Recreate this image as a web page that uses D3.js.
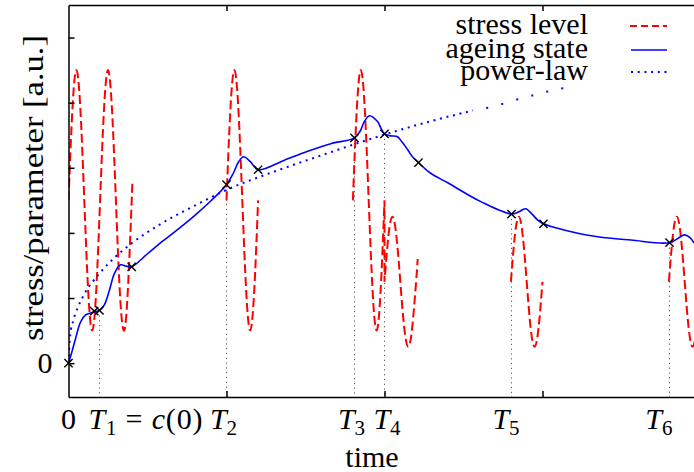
<!DOCTYPE html>
<html>
<head>
<meta charset="utf-8">
<script src="https://cdn.jsdelivr.net/npm/d3@7"></script>
<style>
  html, body { margin: 0; padding: 0; background: #fff; }
  svg { display: block; }
  text { font-family: "Liberation Serif", "Times New Roman", serif; fill: #000; white-space: pre; }
</style>
</head>
<body>
<svg id="chart" width="694" height="472"></svg>
<script>
// ---- data (time in arbitrary units, values in a.u.) ----
// stress bursts, one array per loading interval: [time, stress]
const stressBurst1 = [[0,2.5],[0.025,3.91],[0.05,4.5],[0.075,3.91],[0.1,2.5],[0.125,1.09],[0.15,0.5],[0.175,1.09],
  [0.2,2.5],[0.225,3.91],[0.25,4.5],[0.275,3.91],[0.3,2.5],[0.325,1.09],[0.35,0.5],[0.375,1.09],[0.4,2.5],[0.405,2.81]];
const stressBurst2 = [[1.0,2.5],[1.025,3.91],[1.05,4.5],[1.075,3.91],[1.1,2.5],[1.125,1.09],[1.15,0.5],[1.175,1.09],[1.2,2.5]];
const stressBurst3 = [[1.8,2.5],[1.825,3.91],[1.85,4.5],[1.875,3.91],[1.9,2.5],[1.925,1.09],[1.95,0.5],[1.975,1.09],[2.0,2.5]];
const stressBurst4 = [[2.0,1.25],[2.025,1.96],[2.05,2.25],[2.075,1.96],[2.1,1.25],[2.125,0.54],[2.15,0.25],[2.175,0.54],[2.2,1.25],[2.21,1.6]];
const stressBurst5 = [[2.8,1.25],[2.825,1.96],[2.85,2.25],[2.875,1.96],[2.9,1.25],[2.925,0.54],[2.95,0.25],[2.975,0.54],[3.0,1.25]];
const stressBurst6 = [[3.8,1.25],[3.825,1.96],[3.85,2.25],[3.875,1.96],[3.9,1.25],[3.925,0.54],[3.95,0.25],[3.975,0.54],[4.0,1.25]];

// ageing state: [time, value]
const ageingState = [[0,0],[0.02,0.16],[0.044,0.37],[0.076,0.63],[0.108,0.74],[0.139,0.77],[0.163,0.79],[0.196,0.81],
  [0.228,0.9],[0.259,1.12],[0.291,1.38],[0.329,1.51],[0.365,1.49],[0.4,1.48],[0.5,1.68],[0.6,1.88],[0.7,2.07],[0.8,2.27],[0.9,2.49],[1.0,2.74],
  [1.044,2.92],[1.076,3.09],[1.108,3.17],[1.152,3.09],[1.2,2.97],[1.36,3.11],[1.51,3.25],[1.66,3.37],[1.81,3.46],
  [1.85,3.58],[1.87,3.7],[1.905,3.8],[1.956,3.71],[1.975,3.62],[2.0,3.52],[2.038,3.49],[2.08,3.48],[2.11,3.4],
  [2.146,3.28],[2.177,3.17],[2.215,3.08],[2.29,2.92],[2.4,2.77],[2.61,2.48],[2.804,2.29],[2.848,2.32],[2.892,2.37],
  [2.937,2.28],[2.968,2.2],[3.006,2.14],[3.13,2.05],[3.35,1.94],[3.56,1.89],[3.804,1.85],[3.873,1.94],[3.899,1.97],
  [3.937,1.92],[3.956,1.86],[4.0,1.78]];

// marked states on the ageing curve
const markedStates = [[0,0],[0.163,0.8],[0.196,0.81],[0.4,1.48],[1.0,2.74],[1.2,2.97],[1.81,3.46],[2.0,3.52],
  [2.215,3.08],[2.804,2.29],[3.006,2.14],[3.804,1.85]];

// switching times T1..T6 with the state reached there
const switchPoints = [[0.196,0.81],[1.0,2.74],[1.81,3.46],[2.0,3.52],[2.804,2.29],[3.804,1.85]];

// power-law reference: densely drawn part, then sparse samples
const powerLaw = [[0,0],[0.01,0.42],[0.03,0.65],[0.06,0.86],[0.1,1.06],[0.15,1.24],[0.2,1.39],[0.3,1.64],[0.4,1.84],
  [0.6,2.16],[0.8,2.42],[1.0,2.66],[1.3,2.94],[1.6,3.19],[2.0,3.51],[2.3,3.72],[2.56,3.88]];
const powerLawSparse = [[2.65,3.92],[2.745,3.98],[2.84,4.05],[2.935,4.11],[3.03,4.17],[3.125,4.22]];

// axis ticks and labels
const yTicks = [0, 1, 2, 3, 4, 5];
const xTicks = [1, 2, 3];
const xTickLabels = ["0", "T_1 = c(0)", "T_2", "T_3", "T_4", "T_5", "T_6"];
const xTickLabelPos = [0, 0.487, 0.981, 1.791, 2.016, 2.769, 3.737];
const legendLabels = ["stress level", "ageing state", "power-law"];

// ---- layout ----
const FS = 30;
const svg = d3.select("#chart");
const x = d3.scaleLinear().domain([0, 4]).range([68.5, 700.5]);
const y = d3.scaleLinear().domain([-0.52, 5.5]).range([397, 5]);

svg.append("defs").append("clipPath").attr("id", "plotArea")
  .append("rect").attr("x", x(0)).attr("y", y(5.5)).attr("width", x(4) - x(0)).attr("height", y(-0.52) - y(5.5));

const plot = svg.append("g").attr("clip-path", "url(#plotArea)");

const smooth = d3.line().x(d => x(d[0])).y(d => y(d[1])).curve(d3.curveNatural);
const spline = d3.line().x(d => x(d[0])).y(d => y(d[1])).curve(d3.curveCatmullRom.alpha(0.5));
const monotone = d3.line().x(d => x(d[0])).y(d => y(d[1])).curve(d3.curveMonotoneX);

// dotted drop lines at the switching times
plot.append("g").selectAll("line").data(switchPoints).join("line")
  .attr("x1", d => x(d[0])).attr("x2", d => x(d[0]))
  .attr("y1", d => y(d[1]) + 5).attr("y2", y(-0.52))
  .attr("stroke", "#555").attr("stroke-width", 1).attr("stroke-dasharray", "1.2,3.6");

// stress level (dashed red); bursts 3 and 4 are joined at T4
const stressPaths = [
  smooth(stressBurst1),
  smooth(stressBurst2),
  smooth(stressBurst3) + smooth(stressBurst4).replace(/^M/, "L"),
  smooth(stressBurst5),
  smooth(stressBurst6)
];
plot.append("g").selectAll("path").data(stressPaths).join("path")
  .attr("d", d => d).attr("fill", "none").attr("stroke", "#ff0000")
  .attr("stroke-width", 2).attr("stroke-dasharray", "9,4");

// power-law (dotted blue)
plot.append("path").attr("d", monotone(powerLaw)).attr("fill", "none")
  .attr("stroke", "#0000ff").attr("stroke-width", 2).attr("stroke-dasharray", "2,4.7");
plot.append("g").selectAll("rect").data(powerLawSparse).join("rect")
  .attr("x", d => x(d[0]) - 1).attr("y", d => y(d[1]) - 1).attr("width", 2).attr("height", 2)
  .attr("fill", "#0000ff");

// ageing state (solid blue)
plot.append("path").attr("d", spline(ageingState)).attr("fill", "none")
  .attr("stroke", "#0000ff").attr("stroke-width", 1.6);

// cross markers
const cross = d3.symbol().type(d3.symbolTimes).size(46);
svg.append("g").selectAll("path").data(markedStates).join("path")
  .attr("transform", d => `translate(${x(d[0])},${y(d[1])})`)
  .attr("d", cross).attr("fill", "none").attr("stroke", "#000").attr("stroke-width", 1.4);

// ---- axes / frame ----
const axisStyle = g => {
  g.select(".domain").attr("stroke", "#000").attr("stroke-width", 1.5);
  g.selectAll(".tick line").attr("stroke", "#000").attr("stroke-width", 1.5);
  g.selectAll(".tick text").attr("font-size", FS).attr("font-family", null);
};
svg.append("g").attr("transform", `translate(${x(0)},0)`)
  .call(d3.axisLeft(y).tickValues(yTicks).tickSize(-6).tickSizeOuter(0).tickPadding(16)
    .tickFormat(d => d === 0 ? "0" : ""))
  .call(axisStyle);
svg.append("g").attr("transform", `translate(0,${y(-0.52)})`)
  .call(d3.axisBottom(x).tickValues(xTicks).tickSize(-6).tickSizeOuter(0).tickFormat(""))
  .call(axisStyle);
svg.append("g").attr("transform", `translate(0,${y(5.5)})`)
  .call(d3.axisTop(x).tickValues(xTicks).tickSize(-6).tickSizeOuter(0).tickFormat(""))
  .call(axisStyle);

// math-style labels: letters italic, "_x" subscript
function mathText(sel, str, fs) {
  const runs = [];
  for (let i = 0; i < str.length; i++) {
    const ch = str[i];
    if (ch === "_") { runs.push({ s: str[++i], k: "sub" }); continue; }
    const k = /[A-Za-z]/.test(ch) ? "it" : "rm";
    const last = runs[runs.length - 1];
    if (last && last.k === k) last.s += ch; else runs.push({ s: ch, k });
  }
  let shifted = false;
  const shift = fs * 0.2;
  runs.forEach(r => {
    const ts = sel.append("tspan").text(r.s);
    if (r.k === "it") ts.attr("font-style", "italic");
    if (r.k === "sub") {
      ts.attr("font-size", fs * 0.7).attr("dy", shift);
      shifted = true;
    } else if (shifted) {
      ts.attr("dy", -shift);
      shifted = false;
    }
  });
}

const xl = svg.append("g");
xTickLabels.forEach((lab, i) => {
  const t = xl.append("text").attr("x", x(xTickLabelPos[i])).attr("y", 429)
    .attr("text-anchor", "middle").attr("font-size", FS);
  mathText(t, lab, FS);
  // relation spacing around "=" is wider in typeset math
  if (lab.includes("=")) t.attr("textLength", 114).attr("lengthAdjust", "spacing");
});

svg.append("text").attr("x", 372).attr("y", 467).attr("text-anchor", "middle")
  .attr("font-size", FS).text("time");

svg.append("text").attr("transform", "translate(43,188) rotate(-90)")
  .attr("text-anchor", "middle").attr("font-size", FS)
  .attr("textLength", 306).attr("lengthAdjust", "spacingAndGlyphs")
  .text("stress/parameter [a.u.]");

// ---- legend ----
const legendY = [26, 50, 72];
const legend = svg.append("g");
legend.selectAll("text").data(legendLabels).join("text")
  .attr("x", 588).attr("y", (d, i) => legendY[i] + 8).attr("text-anchor", "end")
  .attr("font-size", FS).text(d => d);
legend.append("line").attr("x1", 630).attr("x2", 667).attr("y1", legendY[0]).attr("y2", legendY[0])
  .attr("stroke", "#ff0000").attr("stroke-width", 2).attr("stroke-dasharray", "7,4");
legend.append("line").attr("x1", 631).attr("x2", 667).attr("y1", legendY[1]).attr("y2", legendY[1])
  .attr("stroke", "#0000ff").attr("stroke-width", 1.6);
legend.append("line").attr("x1", 631).attr("x2", 667).attr("y1", legendY[2]).attr("y2", legendY[2])
  .attr("stroke", "#0000ff").attr("stroke-width", 2).attr("stroke-dasharray", "2,4.7");
</script>
</body>
</html>
